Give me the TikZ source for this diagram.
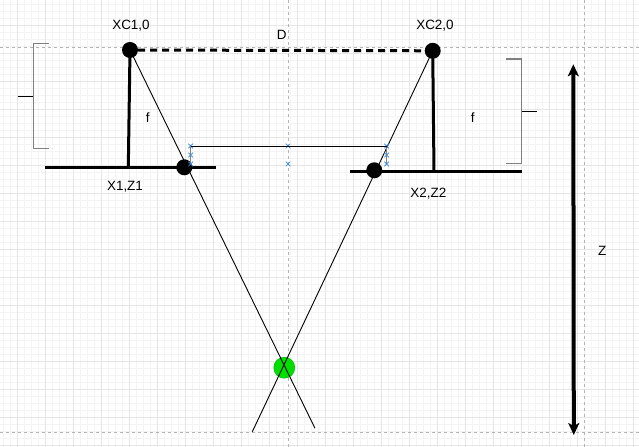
\documentclass[tikz,border=0pt]{standalone}
\usepackage{fontspec}
\setmainfont{Liberation Sans}
\usetikzlibrary{arrows.meta,shapes.misc}
\definecolor{gridmajor}{HTML}{E6E6E6}
\definecolor{gridminor}{HTML}{F4F4F4}
\definecolor{guide}{HTML}{B4B4B4}
\definecolor{handleblue}{HTML}{2A86E8}
\definecolor{focusgreen}{HTML}{00E000}
\tikzset{
  dot/.style={circle,fill=black,inner sep=0pt,minimum size=16bp},
  lbl/.style={font=\fontsize{13.5}{16}\selectfont,inner sep=0pt,text height=9.7bp,text depth=0bp},
  ray/.style={line width=0.9bp},
  bar/.style={line width=3bp},
  brace/.style={draw=gray,line width=1.4bp},
  handle/.style={cross out,draw=handleblue,line width=0.7bp,minimum size=4bp,inner sep=0pt},
}
\begin{document}
\begin{tikzpicture}[x=1bp,y=-1bp]
\useasboundingbox[fill=white] (0,0) rectangle (639,447);
% grid
\foreach \x in {3.3,10.3,...,639} {
	\draw[gridminor,line width=0.6bp] (\x,0) -- (\x,447);
}
\foreach \y in {4.3,11.3,...,447} {
	\draw[gridminor,line width=0.6bp] (0,\y) -- (639,\y);
}
\foreach \x in {17.3,45.3,...,639} {
	\draw[gridmajor,line width=0.8bp] (\x,0) -- (\x,447);
}
\foreach \y in {25.3,53.3,...,447} {
	\draw[gridmajor,line width=0.8bp] (0,\y) -- (639,\y);
}
\begin{scope}[guide,line width=0.8bp,dash pattern=on 3bp off 3bp]
\draw (0,47.3) -- (639,47.3);
\draw (0,432.3) -- (639,432.3);
\draw (288,0) -- (288,447);
\draw (584.3,0) -- (584.3,447);
\end{scope}
% cameras and image planes
\coordinate (foot1) at (128.3,167.7);
\coordinate (foot2) at (434,171.3);
\coordinate (pl1a) at (45,167.7);
\coordinate (pl1b) at (216,167.7);
\coordinate (pl2a) at (350,171.3);
\coordinate (pl2b) at (521.7,171.3);
\coordinate (end1) at (315,428.3);
\coordinate (end2) at (252.3,431.7);
\node[circle,fill=focusgreen,draw=focusgreen!80!black,line width=0.5bp,inner sep=0pt,minimum size=21bp] (target) at (284.3,367.7) {};
\node[dot] (c1) at (130,50) {};
\node[dot] (c2) at (432.7,50.8) {};
\draw[ray] (c1.center) -- (end1);
\draw[ray] (c2.center) -- (end2);
\draw[bar,dash pattern=on 7bp off 5bp] (c1) -- (c2);
\draw[bar] (c1.center) -- (foot1);
\draw[bar] (c2.center) -- (foot2);
\draw[bar] (pl1a) -- (pl1b);
\draw[bar] (pl2a) -- (pl2b);
\node[dot] (p1) at (184.3,167.3) {};
\node[dot] (p2) at (374.3,170.3) {};
% selection
\node[handle] (h1) at (190.7,146) {};
\node[handle] (h2) at (190.7,155) {};
\node[handle] (h3) at (190.7,164) {};
\node[handle] (h4) at (288,146) {};
\node[handle] (h5) at (288,164) {};
\node[handle] (h6) at (386.7,146) {};
\node[handle] (h7) at (386.7,155) {};
\node[handle] (h8) at (386.7,164) {};
\draw[gray,line width=1.2bp] (h1.center) -- (h3.center);
\draw[gray,line width=1.2bp] (h6.center) -- (h8.center);
\draw[line width=0.9bp] (h1.center) -- (h6.center);
% brackets
\draw[brace] (48.7,43.7) -- (33.3,43.7) -- (33.3,148.7) -- (48.7,148.7);
\draw[line width=0.8bp] (17.7,96.3) -- (33.3,96.3);
\draw[brace] (506,59) -- (521.7,59) -- (521.7,163.7) -- (506,163.7);
\draw[line width=0.8bp] (521.7,111) -- (537.3,111);
% depth
\coordinate (zt) at (573.3,64.3);
\coordinate (zb) at (573.8,435);
\draw[line width=4bp,{Stealth[length=12bp,width=11bp,inset=3bp]}-{Stealth[length=12bp,width=11bp,inset=3bp]}] (zt) -- (zb);
% labels
\node[lbl] (lc1) at (131,24.5) {XC1,0};
\node[lbl] (lc2) at (435,24.5) {XC2,0};
\node[lbl] (ld) at (281.7,34.3) {D};
\node[lbl] (lf1) at (147.7,117.3) {f};
\node[lbl] (lf2) at (472.7,117.3) {f};
\node[lbl] (lp1) at (125,185.7) {X1,Z1};
\node[lbl] (lp2) at (428.3,192.7) {X2,Z2};
\node[lbl] (lz) at (602.3,250.7) {Z};
\end{tikzpicture}
\end{document}
